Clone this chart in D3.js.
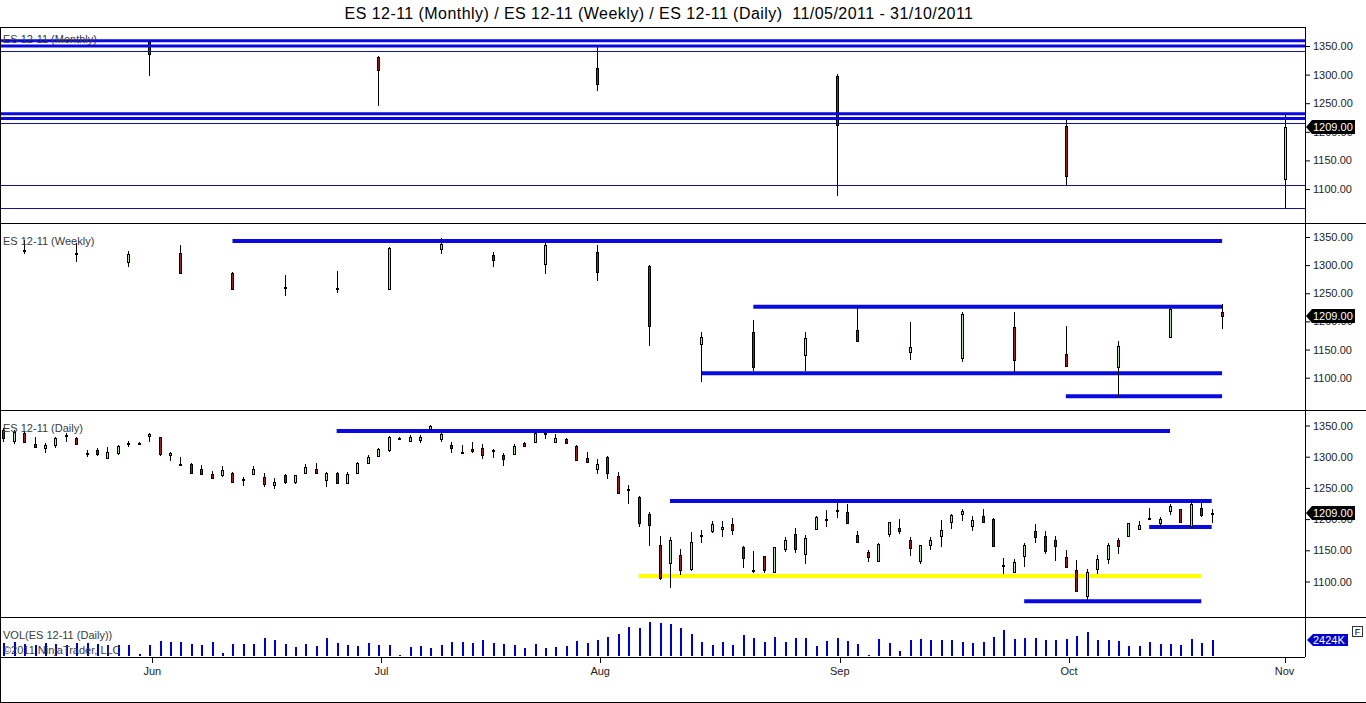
<!DOCTYPE html>
<html>
<head>
<meta charset="utf-8">
<script src="https://cdn.jsdelivr.net/npm/d3@7"></script>
<style>
body { margin: 0; background: #fff; }
svg { display: block; font-family: "Liberation Sans", Arial, sans-serif; }
</style>
</head>
<body>
<script>
// ES 12-11 multi timeframe chart, 11/05/2011 - 31/10/2011

var titleText = "ES 12-11 (Monthly) / ES 12-11 (Weekly) / ES 12-11 (Daily)  11/05/2011 - 31/10/2011";

// monthly bars (stamped on last session of month)
var monthlyDates = ["2011-05-31", "2011-06-30", "2011-07-29", "2011-08-31", "2011-09-30", "2011-10-31"];
var monthlyOpen  = [1357, 1331, 1311.5, 1298, 1211, 1118];
var monthlyHigh  = [1358, 1333, 1348, 1301, 1222, 1231];
var monthlyLow   = [1297.5, 1245, 1271, 1088, 1107, 1066];
var monthlyClose = [1336, 1308, 1283.6, 1213, 1123, 1209];
var monthlyMajorLevels = [1359.3, 1350, 1231.5, 1223.3];
var monthlyMinorLevels = [1340.4, 1215, 1106.6, 1066.3];

// weekly bars (Fridays)
var weeklyDates = ["2011-05-13", "2011-05-20", "2011-05-27", "2011-06-03", "2011-06-10", "2011-06-17",
  "2011-06-24", "2011-07-01", "2011-07-08", "2011-07-15", "2011-07-22", "2011-07-29",
  "2011-08-05", "2011-08-12", "2011-08-19", "2011-08-26", "2011-09-02", "2011-09-09",
  "2011-09-16", "2011-09-23", "2011-09-30", "2011-10-07", "2011-10-14", "2011-10-21"];
var weeklyOpen  = [1327, 1321, 1304, 1321, 1286, 1262, 1260, 1258, 1328, 1318, 1302, 1323,
  1298, 1160, 1181, 1139, 1184, 1146, 1134, 1190, 1142, 1119, 1172, 1216];
var weeklyHigh  = [1344.7, 1338.8, 1325, 1336, 1287, 1282.5, 1289.5, 1332, 1347.5, 1323, 1339, 1336,
  1300, 1181, 1202.5, 1182, 1225.5, 1199.5, 1216, 1216, 1191.5, 1166, 1223, 1230.5];
var weeklyLow   = [1319, 1306, 1297, 1285, 1257, 1246, 1251, 1257, 1320, 1297, 1285, 1272,
  1157, 1092, 1112, 1112, 1163, 1131.5, 1128.5, 1110.5, 1121, 1066, 1171, 1186.5];
var weeklyClose = [1325.5, 1320, 1319, 1285.5, 1258, 1261, 1258.5, 1331, 1337.5, 1310, 1336, 1287,
  1191, 1172, 1118, 1170, 1164, 1154.5, 1212.5, 1131, 1121.5, 1156, 1221.5, 1209];
var weeklyLineFrom  = ["2011-06-10", "2011-08-19", "2011-08-12", "2011-09-30"];
var weeklyLineTo    = ["2011-10-21", "2011-10-21", "2011-10-21", "2011-10-21"];
var weeklyLinePrice = [1343, 1226, 1108, 1067];

// daily bars, one per session from 11 May 2011 to 20 Oct 2011
var dailyOpen = [1343, 1326, 1338, 1321, 1313, 1318, 1334, 1330, 1306, 1310, 1299, 1305, 1321, 1322, 1332,
  1331, 1302, 1288, 1288, 1281, 1272, 1271, 1274, 1263, 1273, 1267, 1255, 1271, 1258, 1274, 1281, 1262,
  1274, 1258, 1274, 1291, 1301, 1311, 1330, 1326, 1327, 1344, 1329, 1319, 1307, 1312, 1314, 1310, 1303,
  1304, 1322, 1324, 1337, 1324, 1328, 1317, 1298, 1280, 1299, 1269, 1248, 1235, 1208, 1158, 1129, 1143,
  1120, 1172, 1181, 1184, 1192, 1156, 1117, 1141, 1115, 1152, 1176, 1145, 1185, 1200, 1214, 1212, 1175,
  1148, 1132, 1176, 1186, 1166, 1132, 1158, 1172, 1196, 1208, 1189, 1205, 1200, 1126, 1115, 1140, 1181,
  1173, 1166, 1139, 1119, 1077, 1120, 1136, 1166, 1172, 1184, 1199, 1194, 1213, 1216, 1189, 1218, 1210.5];
var dailyHigh = [1345.5, 1343, 1341, 1332, 1321.5, 1332, 1337.5, 1331, 1310.5, 1313.5, 1315, 1319, 1325, 1323, 1337.5,
  1332, 1308, 1300, 1290, 1286.5, 1277, 1285, 1276, 1268, 1285, 1273.5, 1265.5, 1272.5, 1270.5, 1288, 1290.5, 1276,
  1275.5, 1275.5, 1292, 1302.5, 1314.5, 1333.5, 1331, 1334.5, 1335, 1350.5, 1338.5, 1323, 1319.5, 1323, 1320, 1312.5, 1306.5,
  1320.5, 1324, 1340, 1339, 1336.5, 1330.5, 1318, 1308, 1296, 1301, 1275.5, 1254.5, 1237, 1212, 1173, 1172, 1151.5,
  1179, 1182.5, 1197, 1197, 1202, 1157.5, 1149, 1141.5, 1156, 1172, 1185, 1174.5, 1205, 1214.5, 1226, 1224, 1181,
  1150.5, 1161, 1196, 1200, 1171, 1158.5, 1172, 1198.5, 1208, 1216.5, 1205, 1216, 1202, 1138, 1136, 1161, 1191.5,
  1181, 1173, 1150.5, 1134.5, 1119.5, 1142.5, 1162, 1169, 1193.5, 1197, 1217, 1204, 1224, 1216.5, 1231.5, 1226, 1216];
var dailyLow = [1323, 1320, 1322, 1315, 1306.5, 1314.5, 1324, 1318, 1300, 1301.5, 1298, 1303, 1316, 1321, 1324,
  1301.5, 1293.5, 1286.5, 1272.5, 1272, 1265.5, 1268, 1257.5, 1253, 1272, 1251, 1248, 1256, 1256, 1273, 1273, 1252,
  1257, 1257, 1273, 1288, 1300, 1308, 1329, 1323, 1322.5, 1343, 1324, 1306.5, 1304, 1306.5, 1297, 1298.5, 1285.5,
  1302, 1315, 1323, 1328.5, 1323, 1320.5, 1294, 1290.5, 1272.5, 1264, 1241, 1224, 1188, 1157, 1102.5, 1089, 1110,
  1117, 1162, 1178, 1172, 1174.5, 1122, 1113, 1113, 1113, 1148, 1146, 1127.5, 1184, 1188, 1202, 1194, 1162,
  1131.5, 1131, 1172, 1176, 1141, 1128, 1150.5, 1156, 1184, 1197, 1181.5, 1193, 1155.5, 1111.5, 1113, 1124, 1162,
  1144, 1133, 1121, 1085, 1070, 1112, 1128, 1144, 1171, 1182.5, 1198.5, 1188, 1206.5, 1194.5, 1188, 1203, 1193];
var dailyClose = [1330, 1340, 1323, 1316, 1318, 1330, 1335, 1320, 1305, 1304, 1308, 1317, 1322, 1322.5, 1336,
  1303, 1306, 1287.5, 1274, 1273, 1266, 1279, 1260, 1264, 1281, 1256, 1260, 1259, 1270, 1283, 1275, 1274,
  1258, 1273, 1290, 1300, 1312, 1332, 1329.5, 1332, 1332, 1349, 1337, 1314, 1308, 1308, 1302, 1310.5, 1296,
  1317, 1317, 1338, 1338, 1330, 1321, 1295, 1292, 1288, 1274, 1242, 1249, 1194, 1191, 1105, 1166, 1119,
  1163, 1174, 1192, 1188, 1183, 1138, 1118, 1118.5, 1155, 1166, 1152, 1170, 1204, 1200.5, 1215, 1195, 1163,
  1140, 1160, 1195, 1181, 1153, 1158, 1166, 1182, 1207, 1213, 1198, 1195, 1156, 1127, 1131, 1158, 1171,
  1149, 1157, 1123, 1086, 1115, 1136, 1158, 1157, 1193, 1190, 1201, 1200, 1221, 1195, 1224, 1207, 1209];
// daily volume, thousands of contracts
var dailyVolume = [1900, 2100, 1800, 1600, 1900, 1800, 1700, 1900, 2000, 1800, 1700, 1700, 1600, 300,
  1667, 2273, 2170, 2170, 1864, 1667, 2170, 455, 1770, 1770, 1864, 2776, 2472, 1770, 1364, 1864, 1565, 2776,
  1970, 1667, 1465, 1970, 1667, 1667, 100,
  1364, 1565, 1263, 1667, 2070, 2070, 1970, 2472, 1970, 1770, 1667, 1263, 1864, 1263, 1364, 1465, 2273, 1970,
  2472, 2879, 3384, 4394, 4293, 5101, 5000, 4899, 4192,
  3333, 2172, 1667, 2172, 1667, 3182, 2677, 2172, 2879, 2172, 2677, 2778, 1566, 2273, 2677, 2273, 1768, 152,
  2576, 1970, 758, 2475, 2576, 2374, 2475, 2374, 2172, 1970, 2172, 2879, 3939, 2576, 2677, 2778, 2374, 2475,
  2576, 3081, 3687, 2475, 2374, 2273, 1566, 1566, 2172, 1768, 1869, 1667, 2576, 1970, 2424];
var dailyLineFrom  = ["2011-06-24", "2011-08-09", "2011-10-12", "2011-09-26"];
var dailyLineTo    = ["2011-10-14", "2011-10-20", "2011-10-20", "2011-10-19"];
var dailyLinePrice = [1341, 1229, 1187.3, 1068.3];
var supportFrom = "2011-08-04", supportTo = "2011-10-19", supportPrice = 1108.8;

var lastPrice = 1209;
var lastVolume = 2424;
var priceTicks = [1100, 1150, 1200, 1250, 1300, 1350];
var monthTicks = ["2011-06-01", "2011-07-01", "2011-08-01", "2011-09-01", "2011-10-01", "2011-11-01"];
var monthNames = ["Jun", "Jul", "Aug", "Sep", "Oct", "Nov"];

var w = 1366, h = 703;
var plotRight = 1305;
var upColor = "#b4dcaa", downColor = "#a11d1d";
var blue = "#0a0ae0", navy = "#14149a";

var svg = d3.select("body").append("svg")
    .attr("width", w)
    .attr("height", h);

// one slot per weekday session
var fmt = d3.timeFormat("%Y-%m-%d");
var parse = d3.timeParse("%Y-%m-%d");
var slots = d3.timeDay.range(parse("2011-05-11"), parse("2011-11-01"))
    .filter(function(d) { return d.getDay() > 0 && d.getDay() < 6; })
    .map(fmt);
var x = d3.scalePoint().domain(slots).range([3.3, 1284.6]);
var dailyDates = slots.slice(0, dailyOpen.length);

var yM = d3.scaleLinear().domain([1100, 1350]).range([189, 46]);
var yW = d3.scaleLinear().domain([1100, 1350]).range([377.7, 237]);
var yD = d3.scaleLinear().domain([1100, 1350]).range([581.5, 425.5]);
var yV = d3.scaleLinear().domain([0, 5000]).range([656, 623]);

var panels = [
    {id: "m", top: 27, bottom: 223},
    {id: "w", top: 223, bottom: 410},
    {id: "d", top: 410, bottom: 617},
    {id: "v", top: 617, bottom: 657}
];
var defs = svg.append("defs");
panels.forEach(function(p) {
    defs.append("clipPath").attr("id", "clip-" + p.id)
        .append("rect")
        .attr("x", 1).attr("y", p.top + 1)
        .attr("width", plotRight - 1).attr("height", p.bottom - p.top - 1);
});
function layer(id) {
    return svg.append("g").attr("clip-path", "url(#clip-" + id + ")");
}

function drawCandles(g, dates, o, hi, lo, c, y) {
    var bars = dates.map(function(d, i) {
        return {x: Math.round(x(d)), o: o[i], h: hi[i], l: lo[i], c: c[i]};
    });
    g.selectAll(null).data(bars).enter().append("line")
        .attr("x1", function(d) { return d.x + 0.5; })
        .attr("x2", function(d) { return d.x + 0.5; })
        .attr("y1", function(d) { return y(d.h); })
        .attr("y2", function(d) { return y(d.l); })
        .attr("stroke", "#000")
        .attr("shape-rendering", "crispEdges");
    g.selectAll(null).data(bars).enter().append("rect")
        .attr("x", function(d) { return d.x - 0.5; })
        .attr("y", function(d) { return Math.round(y(Math.max(d.o, d.c))) + 0.5; })
        .attr("width", 2)
        .attr("height", function(d) { return Math.max(1, Math.round(Math.abs(y(d.o) - y(d.c)))); })
        .attr("fill", function(d) { return d.c >= d.o ? upColor : downColor; })
        .attr("stroke", "#000")
        .attr("shape-rendering", "crispEdges");
}

function hLine(g, x1, x2, yy, color, width) {
    g.append("line")
        .attr("x1", x1).attr("x2", x2)
        .attr("y1", yy).attr("y2", yy)
        .attr("stroke", color)
        .attr("stroke-width", width);
}

// ---- monthly panel: candles first, drawn levels on top
var gM = layer("m");
drawCandles(gM, monthlyDates, monthlyOpen, monthlyHigh, monthlyLow, monthlyClose, yM);
monthlyMajorLevels.forEach(function(p) { hLine(gM, 0, plotRight, yM(p), blue, 3); });
monthlyMinorLevels.forEach(function(p) { hLine(gM, 0, plotRight, Math.round(yM(p)) + 0.5, navy, 1); });

// ---- weekly panel
var gW = layer("w");
weeklyLinePrice.forEach(function(p, i) {
    hLine(gW, x(weeklyLineFrom[i]), x(weeklyLineTo[i]), yW(p), blue, 4);
});
drawCandles(gW, weeklyDates, weeklyOpen, weeklyHigh, weeklyLow, weeklyClose, yW);

// ---- daily panel
var gD = layer("d");
dailyLinePrice.forEach(function(p, i) {
    hLine(gD, x(dailyLineFrom[i]), x(dailyLineTo[i]), yD(p), blue, 4);
});
hLine(gD, x(supportFrom), x(supportTo), yD(supportPrice), "#ffff00", 4);
drawCandles(gD, dailyDates, dailyOpen, dailyHigh, dailyLow, dailyClose, yD);

// ---- volume panel
var gV = layer("v");
gV.selectAll("rect")
    .data(dailyVolume)
    .enter()
    .append("rect")
    .attr("x", function(d, i) { return Math.round(x(dailyDates[i])); })
    .attr("y", function(d) { return yV(d); })
    .attr("width", 2)
    .attr("height", function(d) { return yV(0) - yV(d); })
    .attr("fill", "#0000cc")
    .attr("shape-rendering", "crispEdges");

// ---- frame
var frame = svg.append("g").attr("stroke", "#000").attr("shape-rendering", "crispEdges");
frame.append("line").attr("x1", 0.5).attr("x2", 0.5).attr("y1", 27).attr("y2", 702);
frame.append("line").attr("x1", 0).attr("x2", plotRight).attr("y1", 27.5).attr("y2", 27.5);
[223, 410, 617].forEach(function(yy) {
    frame.append("line").attr("x1", 0).attr("x2", w).attr("y1", yy + 0.5).attr("y2", yy + 0.5);
});
frame.append("line").attr("x1", 0).attr("x2", plotRight).attr("y1", 657.5).attr("y2", 657.5);
frame.append("line").attr("x1", 0).attr("x2", w).attr("y1", 702.5).attr("y2", 702.5);
frame.append("line").attr("x1", plotRight + 0.5).attr("x2", plotRight + 0.5).attr("y1", 27).attr("y2", 657);

// ---- price axes
[yM, yW, yD].forEach(function(y) {
    var ax = svg.append("g")
        .attr("transform", "translate(" + plotRight + ",0)")
        .call(d3.axisRight(y).tickValues(priceTicks).tickFormat(d3.format(".2f")).tickSize(5).tickPadding(3));
    ax.select(".domain").remove();
    ax.selectAll("text")
        .attr("font-family", "'Liberation Sans', Arial, sans-serif")
        .attr("font-size", "11px")
        .attr("fill", "#222");
    ax.selectAll("line").attr("stroke", "#000");

    var ty = Math.round(y(lastPrice));
    svg.append("path")
        .attr("d", "M" + (plotRight + 1) + "," + ty + " L" + (plotRight + 7) + "," + (ty - 7) +
            " L1355," + (ty - 7) + " L1355," + (ty + 7) + " L" + (plotRight + 7) + "," + (ty + 7) + " Z")
        .attr("fill", "#000");
    svg.append("text")
        .attr("x", 1313)
        .attr("y", ty + 4)
        .attr("font-size", "11px")
        .attr("fill", "#fff")
        .text(d3.format(".2f")(lastPrice));
});

// volume marker and the small "F" box
var vy = Math.round(yV(lastVolume));
svg.append("path")
    .attr("d", "M" + (plotRight + 2) + "," + vy + " L" + (plotRight + 8) + "," + (vy - 6) +
        " L1348," + (vy - 6) + " L1348," + (vy + 6) + " L" + (plotRight + 8) + "," + (vy + 6) + " Z")
    .attr("fill", "#0000d0");
svg.append("text")
    .attr("x", 1313)
    .attr("y", vy + 4)
    .attr("font-size", "11px")
    .attr("fill", "#fff")
    .text(lastVolume + "K");
svg.append("rect")
    .attr("x", 1352.5).attr("y", 626.5)
    .attr("width", 10).attr("height", 10)
    .attr("fill", "#fff")
    .attr("stroke", "#333");
svg.append("text")
    .attr("x", 1357.5).attr("y", 635)
    .attr("text-anchor", "middle")
    .attr("font-size", "9px")
    .attr("fill", "#000")
    .text("F");

// ---- time axis: month boundary ticks
var step = x.step();
var monthX = monthTicks.map(function(m) {
    var first = slots.find(function(s) { return s >= m; });
    return first ? x(first) - step * 0.7 : x(slots[slots.length - 1]);
});
svg.selectAll("line.mtick")
    .data(monthX)
    .enter()
    .append("line")
    .attr("x1", function(d) { return Math.round(d) + 0.5; })
    .attr("x2", function(d) { return Math.round(d) + 0.5; })
    .attr("y1", 657)
    .attr("y2", 663)
    .attr("stroke", "#000");
svg.selectAll("text.mlabel")
    .data(monthX)
    .enter()
    .append("text")
    .attr("x", function(d) { return d; })
    .attr("y", 675)
    .attr("text-anchor", "middle")
    .attr("font-size", "11px")
    .attr("fill", "#222")
    .text(function(d, i) { return monthNames[i]; });

// ---- texts
svg.append("text")
    .attr("x", 659)
    .attr("y", 19)
    .attr("text-anchor", "middle")
    .attr("font-size", "16px")
    .attr("letter-spacing", "0.45px")
    .attr("fill", "#000")
    .style("white-space", "pre")
    .text(titleText);

var labels = [
    {t: "ES 12-11 (Monthly)", y: 43},
    {t: "ES 12-11 (Weekly)", y: 245},
    {t: "ES 12-11 (Daily)", y: 432},
    {t: "VOL(ES 12-11 (Daily))", y: 639},
    {t: "\u00a92011 NinjaTrader, LLC", y: 654}
];
svg.selectAll("text.plabel")
    .data(labels)
    .enter()
    .append("text")
    .attr("x", 3)
    .attr("y", function(d) { return d.y; })
    .attr("font-size", "11px")
    .attr("fill", "#3a3a3a")
    .text(function(d) { return d.t; });
</script>
</body>
</html>
